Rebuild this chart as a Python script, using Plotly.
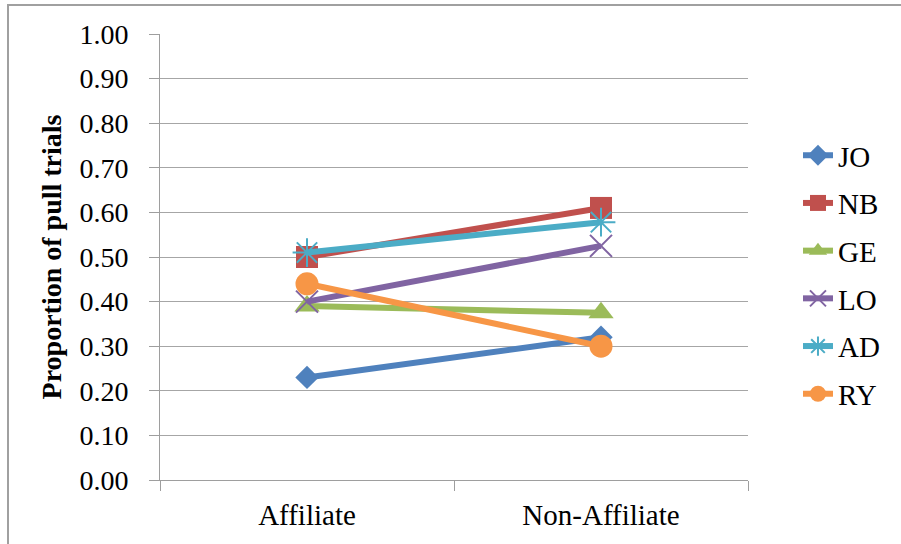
import plotly.graph_objects as go

# Conditions on the x axis
conditions = ["Affiliate", "Non-Affiliate"]

# Proportion of pull trials per subject
jo = [0.23, 0.32]
nb = [0.50, 0.61]
ge = [0.39, 0.375]
lo = [0.40, 0.525]
ad = [0.51, 0.578]
ry = [0.44, 0.30]

subjects = ["JO", "NB", "GE", "LO", "AD", "RY"]
series = [jo, nb, ge, lo, ad, ry]
colors = ["#4F81BD", "#C0504D", "#9BBB59", "#8064A2", "#4BACC6", "#F79646"]
symbols = ["diamond", "square", "triangle-up", "x-thin-open", "asterisk-open", "circle"]
sizes = [18, 22, 22, 22, 24, 23]

y_ticks = [round(i * 0.1, 2) for i in range(11)]

fig = go.Figure()
for name, vals, col, sym, sz in zip(subjects, series, colors, symbols, sizes):
    open_sym = sym.endswith("open")
    fig.add_trace(go.Scatter(
        x=conditions, y=vals, name=name, mode="lines+markers",
        legendgroup=name,
        line=dict(color=col, width=6),
        marker=dict(symbol=sym, size=sz, color=col,
                    line=dict(color=col, width=2 if open_sym else 0)),
    ))

serif = "Liberation Serif, serif"
axis_grey = "#9E9E9E"

fig.update_layout(
    width=901, height=544,
    margin=dict(l=160, r=153, t=34, b=64),
    paper_bgcolor="white", plot_bgcolor="white",
    font=dict(family=serif, color="black", size=28),
    showlegend=True,
    legend=dict(x=1.085, y=0.785, xanchor="left", yanchor="top",
                font=dict(family=serif, size=29, color="black"),
                tracegroupgap=7, bgcolor="rgba(0,0,0,0)"),
    xaxis=dict(type="category", range=[-0.5, 1.5], tickson="boundaries",
               ticks="outside", ticklen=10, tickcolor=axis_grey,
               showgrid=False, showline=True, linecolor=axis_grey, linewidth=1,
               ticklabelstandoff=9,
               tickfont=dict(family=serif, size=29)),
    yaxis=dict(range=[0, 1.0], tickvals=y_ticks, tickformat=".2f",
               ticks="outside", ticklen=10, tickcolor=axis_grey,
               showgrid=True, gridcolor="#A6A6A6", gridwidth=1,
               showline=True, linecolor=axis_grey, linewidth=1,
               zeroline=False, ticklabelstandoff=15,
               tickfont=dict(family=serif, size=28),
               title=dict(text="<b>Proportion of pull trials</b>",
                          font=dict(family=serif, size=28), standoff=9)),
    # Frame edges along the left and top of the figure
    shapes=[dict(type="rect", xref="paper", yref="paper",
                 x0=-152 / 588, x1=2.0,
                 y0=-1.0, y1=(480 - 5) / 446,
                 line=dict(color="#A0A0A0", width=2), fillcolor="rgba(0,0,0,0)",
                 layer="below")],
)

fig.write_html("out.html")
